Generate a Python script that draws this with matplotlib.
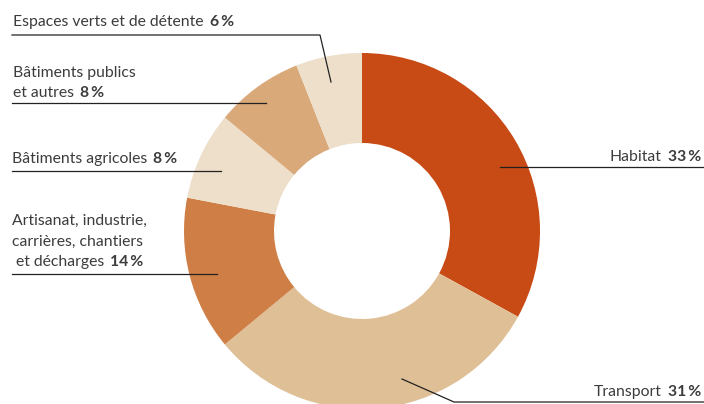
import matplotlib.pyplot as plt

labels = ['Habitat', 'Transport', 'Artisanat, industrie,\ncarrières, chantiers\n et décharges',
          'Bâtiments agricoles', 'Bâtiments publics\net autres', 'Espaces verts et de détente']
shares = [33, 31, 14, 8, 8, 6]
colors = ['#C84A14', '#DFBF95', '#CF7E45', '#EDDFC9', '#DAA97A', '#EDDFC9']

plt.rcParams['font.family'] = ['Lato', 'DejaVu Sans']
W, H = 704, 404
fig = plt.figure(figsize=(W / 100, H / 100), dpi=100)
ax = fig.add_axes([0, 0, 1, 1])

cx, cy, r = 362, H - 231, 178
ax.pie(shares, colors=colors, startangle=90, counterclock=False,
       center=(cx, cy), radius=r, wedgeprops=dict(width=90, linewidth=0))
ax.set_xlim(0, W)
ax.set_ylim(0, H)
ax.set_aspect('equal')
ax.axis('off')

fig.canvas.draw()
rend = fig.canvas.get_renderer()
tc = '#3c3c3c'
fs = 11.3
step = 20.5


def py(y):
    return H - y


def label_left(x, y, txt, pct):
    # y is baseline of the last line, in pixels from the top
    lines = txt.split('\n')
    n = len(lines)
    for i, ln in enumerate(lines):
        t = ax.text(x, py(y - (n - 1 - i) * step), ln, fontsize=fs, color=tc,
                    ha='left', va='baseline')
    bb = t.get_window_extent(rend)
    ax.text(bb.x1 + 6, py(y), f'{pct}\u2009%', fontsize=fs, color=tc, fontweight='bold',
            ha='left', va='baseline')


def label_right(x, y, txt, pct):
    b = ax.text(x, py(y), f'{pct}\u2009%', fontsize=fs, color=tc, fontweight='bold',
                ha='right', va='baseline')
    bb = b.get_window_extent(rend)
    ax.text(bb.x0 - 6, py(y), txt, fontsize=fs, color=tc, ha='right', va='baseline')


lc = '#222222'
# Habitat
label_right(701, 161, labels[0], shares[0])
ax.plot([500, 704], [py(167), py(167)], color=lc, lw=0.9)
# Transport
label_right(701, 396, labels[1], shares[1])
ax.plot([402, 454, 704], [py(379), py(402), py(402)], color=lc, lw=0.9)
# Artisanat
label_left(12, 266, labels[2], shares[2])
ax.plot([12, 217], [py(274), py(274)], color=lc, lw=0.9)
# Batiments agricoles
label_left(12, 163, labels[3], shares[3])
ax.plot([12, 221], [py(171), py(171)], color=lc, lw=0.9)
# Batiments publics
label_left(13, 97, labels[4], shares[4])
ax.plot([12, 266], [py(103), py(103)], color=lc, lw=0.9)
# Espaces verts
label_left(13, 26, labels[5], shares[5])
ax.plot([12, 320, 331], [py(35), py(35), py(82)], color=lc, lw=0.9)

fig.savefig('out.png', dpi=100)
